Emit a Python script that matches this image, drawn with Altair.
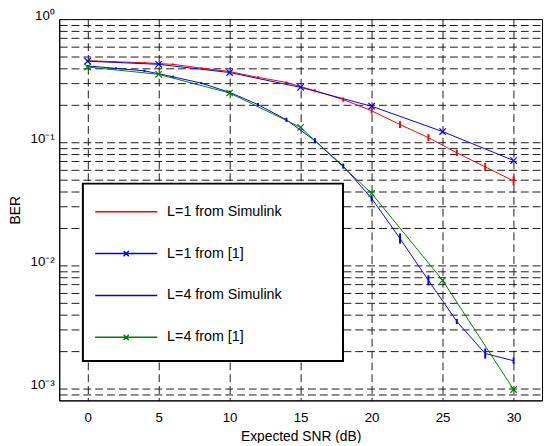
import altair as alt
import pandas as pd

series_names = ["L=1 from Simulink", "L=1 from [1]", "L=4 from Simulink", "L=4 from [1]"]
series_colors = ["#ff0000", "#0000ff", "#0000ff", "#008000"]

snr_sim = [0, 2, 4, 6, 8, 10, 12, 14, 16, 18, 20, 22, 24, 26, 28, 30]
ber_l1_sim = [0.46, 0.45, 0.442, 0.429, 0.40, 0.375, 0.336, 0.306, 0.262, 0.222,
              0.18, 0.139, 0.109, 0.082, 0.063, 0.0485]
err_l1_sim = [0.015, 0.015, 0.015, 0.015, 0.015, 0.015, 0.02, 0.02, 0.03, 0.04,
              0.055, 0.065, 0.065, 0.06, 0.08, 0.09]
ber_l4_sim = [0.416, 0.398, 0.38, 0.34, 0.302, 0.254, 0.202, 0.152, 0.103, 0.064,
              0.035, 0.0165, 0.00755, 0.0035, 0.00192, 0.00168]
err_l4_sim = [0.02, 0.02, 0.02, 0.02, 0.02, 0.03, 0.03, 0.04, 0.05, 0.05,
              0.06, 0.1, 0.1, 0.05, 0.1, 0.06]

snr_ref = [0, 5, 10, 15, 20, 25, 30]
ber_l1_ref = [0.455, 0.429, 0.368, 0.279, 0.196, 0.122, 0.071]
ber_l4_ref = [0.408, 0.356, 0.251, 0.132, 0.0384, 0.00755, 0.00098]

x_ticks = [0, 5, 10, 15, 20, 25, 30]
y_grid_values = [0.0009,
                 0.001, 0.002, 0.003, 0.004, 0.005, 0.006, 0.007, 0.008, 0.009,
                 0.01, 0.02, 0.03, 0.04, 0.05, 0.06, 0.07, 0.08, 0.09,
                 0.1, 0.2, 0.3, 0.4, 0.5, 0.6, 0.7, 0.8, 0.9, 1]
y_decades = [1, 0.1, 0.01, 0.001]
y_decade_labels = ["10\u2070", "10\u207b\u00b9", "10\u207b\u00b2", "10\u207b\u00b3"]

FONT = "Liberation Sans"

# ---- tables ----
rows = []
for s, xs, ys, es in [(series_names[0], snr_sim, ber_l1_sim, err_l1_sim),
                      (series_names[2], snr_sim, ber_l4_sim, err_l4_sim)]:
    for x, y, e in zip(xs, ys, es):
        rows.append({"snr": x, "ber": y, "lo": y / (1 + e), "hi": y * (1 + e),
                     "series": s, "kind": "sim"})
for s, xs, ys in [(series_names[1], snr_ref, ber_l1_ref),
                  (series_names[3], snr_ref, ber_l4_ref)]:
    for x, y in zip(xs, ys):
        rows.append({"snr": x, "ber": y, "lo": y, "hi": y, "series": s, "kind": "ref"})
df = pd.DataFrame(rows)
df["order"] = df["series"].map({n: i for i, n in enumerate(series_names)})

label_expr = " : ".join(
    f"datum.value == {v} ? '{t}'" for v, t in zip(y_decades, y_decade_labels)
) + " : ''"

x_enc = alt.X("snr:Q", scale=alt.Scale(domain=[-2, 32], nice=False, zero=False),
              axis=alt.Axis(values=x_ticks, title="Expected SNR (dB)", grid=True,
                            ticks=False, labelFontSize=13.5, labelPadding=10,
                            titleFontSize=14, titlePadding=6, titleFontWeight="normal",
                            labelFont=FONT, titleFont=FONT, labelColor="black",
                            titleColor="black", domainColor="black"))
y_enc = alt.Y("ber:Q", scale=alt.Scale(type="log", domain=[0.0008, 1], nice=False),
              axis=alt.Axis(values=y_grid_values, labelExpr=label_expr, title="BER",
                            grid=True, ticks=False, labelOverlap=False,
                            labelFontSize=13.5, labelBaseline="alphabetic",
                            labelPadding=5, titleFontSize=14, titlePadding=8,
                            titleFontWeight="normal", labelFont=FONT, titleFont=FONT,
                            labelColor="black", titleColor="black",
                            domainColor="black"))

color_scale = alt.Scale(domain=series_names, range=series_colors)
color_nolegend = alt.Color("series:N", scale=color_scale, legend=None)

base = alt.Chart(df)

lines = base.mark_line(strokeWidth=1).encode(
    x=x_enc, y=y_enc, color=color_nolegend, order="snr:Q",
    detail="order:O")

errbars = base.transform_filter("datum.kind == 'sim'").mark_rule(strokeWidth=2).encode(
    x="snr:Q", y="lo:Q", y2="hi:Q", color=color_nolegend)

xpath = "M-1,-1L1,1M-1,1L1,-1"
markers = base.transform_filter("datum.kind == 'ref'").mark_point(
    shape=xpath, size=42, strokeWidth=1.2, filled=False, opacity=1).encode(
    x="snr:Q", y="ber:Q", color=color_nolegend)

legend_props = dict(orient="none", legendX=24, legendY=167, title=None,
                    fillColor="white", strokeColor="black", padding=17,
                    rowPadding=24.5, labelFontSize=14.5, labelFont=FONT,
                    labelColor="black", symbolOffset=15.5, labelOffset=30,
                    symbolStrokeWidth=1.5, symbolSize=441, symbolOpacity=1)
# legend sample: a long line (with or without an x marker); the trailing
# move-to widens the legend box to the reference's width
line_only = "M-3,0H3M19,0"
line_x = "M-3,0H3M-0.25,-0.25L0.25,0.25M-0.25,0.25L0.25,-0.25M19,0"
legend_layer = base.mark_point(filled=False, opacity=0).encode(
    x="snr:Q", y="ber:Q",
    color=alt.Color("series:N", scale=color_scale, legend=alt.Legend(**legend_props)),
    shape=alt.Shape("series:N", scale=alt.Scale(domain=series_names,
                                                range=[line_only, line_x, line_only, line_x]),
                    legend=alt.Legend(**legend_props)))

chart = alt.layer(lines, errbars, markers, legend_layer).resolve_scale(
    color="independent", shape="independent"
).resolve_legend(color="independent", shape="independent").properties(
    width=490, height=387,
    padding={"left": 52, "top": 8, "right": 1, "bottom": 40},
    autosize=alt.AutoSizeParams(type="none"),
).configure_view(stroke="black", strokeWidth=1).configure_axis(
    gridColor="#1a1a1a", gridOpacity=1, gridDash=[8, 4], gridWidth=1,
    domainWidth=1,
).configure_legend(strokeWidth=2)

chart.save("out.html", embed_options={"renderer": "svg", "actions": False})
